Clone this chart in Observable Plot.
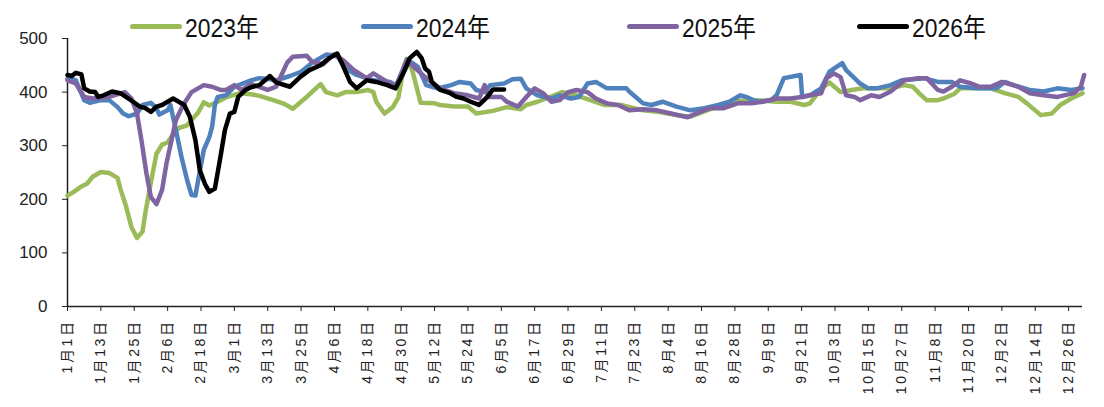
<!DOCTYPE html>
<html>
<head>
<meta charset="utf-8">
<script src="https://cdn.jsdelivr.net/npm/d3@7"></script>
<script src="https://cdn.jsdelivr.net/npm/@observablehq/plot@0.6"></script>
<style>
  body { margin: 0; background: #fff; }
  #wrap { position: relative; width: 1104px; height: 407px; }
  #chart { position: absolute; left: 0; top: 0; }
  .item { position: absolute; top: 9px; height: 34px; display: flex; align-items: center;
          font-family: "Liberation Sans", "Noto Sans CJK SC", sans-serif;
          font-size: 26px; color: #111; white-space: nowrap; }
  .sw { width: 52px; height: 5px; border-radius: 3px; margin-right: 3px; flex: none; }
  .tx { display: inline-block; transform: scaleX(0.88); transform-origin: left center; margin-top: -2px; }
</style>
</head>
<body>
<div id="wrap">
  <div id="chart"></div>
  <div id="legend"></div>
</div>
<script>
// ---- data (day index from 1月1日, value) ----
const seriesNames = ["2023年", "2024年", "2025年", "2026年"];
const seriesColors = ["#9BBB59", "#4F81BD", "#8064A2", "#000000"];

const days2023 = [0,2,5,7,9,12,15,18,19,21,23,25,27,28,30,32,34,36,38,40,43,45,47,49,51,54,57,62,66,69,74,78,81,86,91,93,97,100,104,108,110,111,114,117,119,121,122,124,127,132,134,139,144,147,153,158,163,165,169,175,178,183,188,193,199,207,213,219,224,229,235,241,248,255,260,265,267,271,274,278,282,286,296,301,304,307,309,313,315,319,321,332,337,342,345,350,354,357,361,365];
const vals2023 = [207,213,224,229,242,251,249,240,220,188,148,128,140,175,232,285,302,306,322,333,338,350,362,381,375,382,390,398,396,393,385,378,369,391,415,400,394,400,400,404,400,382,360,372,390,448,462,440,380,379,376,373,373,360,365,372,368,376,382,394,400,394,385,376,376,366,363,357,354,364,375,384,385,382,382,376,379,406,418,400,404,407,407,413,410,394,385,385,388,397,407,407,398,391,379,357,360,376,388,398];

const days2024 = [0,3,6,8,12,15,18,20,22,25,27,30,32,33,36,37,39,41,43,44.6,46,47,49,51,52,53,54,57,60,63,66,69,73,75,80,84,88,93,97,100,104,110,116,118,121,123,126,129,133,138,141,145,147,150,152,157,160,163,165,169,174,177,181,184,187,190,194,201,202,207,210,214,219,224,229,234,238,242,244,248,253,255,257.6,263.6,264.2,267,271,274,278.6,280,283,285,288,291,296,300,308,313,318,321,327,334,337,342,346,351,356,361,365];
const vals2024 = [425,422,385,380,385,385,372,360,355,360,376,380,370,358,366,376,329,279,236,208,207,236,292,316,335,376,391,394,410,416,422,426,424,422,430,438,455,470,468,444,432,422,419,413,438,458,447,413,407,413,419,416,404,400,413,416,424,425,407,394,388,394,388,391,416,419,407,407,401,379,376,382,373,366,370,376,382,394,391,382,385,394,426,432,391,394,407,438,454,441,426,416,407,407,413,422,426,419,419,410,407,407,419,410,404,401,407,404,407];

const days2025 = [0,3,6,9,15,20.6,23,25,26.6,28.4,30,32,34,35.6,37.4,39,41.6,44.6,49,52,55,57,60,62.6,66,72,75,79,81,86,88,92,95.6,99,103,107.6,110,115,118,122,124,129,134,139,144,148,150,151.4,156,158,162,165,168,171,174,177,180,183,187,190,194,198,202,207,212,217,223,226,231,236,241,246,250,255,260,264,267,271,273,275.6,278,280,283,285,289,292,296,301,306,309,313,315,318,321,325,328,332,336,342,346,351,356,362,364.4,365.6];
const vals2025 = [422,416,391,388,391,400,388,360,310,248,204,191,217,267,310,348,376,400,413,410,404,404,413,404,415,404,410,455,466,468,456,452,470,460,441,426,435,419,410,460,450,426,407,398,394,388,413,391,391,382,373,391,407,398,382,385,400,404,400,388,379,376,366,368,366,360,353,360,370,370,379,379,382,388,388,391,394,398,426,435,428,394,391,385,394,391,401,422,426,426,404,401,410,422,416,410,410,419,410,398,394,391,398,410,432];

const days2026 = [0,1.6,3,5,6,8,10,11,13,16,19,21,23.6,26,28,30,32,34,38,40,42,44,46,47.6,49.4,51,53,55,56.6,58.4,60,61.4,64,66,69,72.8,75,80,83.6,87,91,94,97,99,101.6,104,107.6,111,115,118,121,123,125.6,127.4,128.6,130,131,134,137.6,140,142.4,145,148,151,153,157];
const vals2026 = [432,430,436,433,407,401,400,391,394,401,398,391,382,373,370,363,373,376,388,382,376,354,310,254,229,214,220,279,329,360,363,391,404,409,413,430,418,410,428,441,450,463,472,450,419,407,422,419,413,407,438,463,475,463,444,438,419,404,398,391,388,382,376,391,405,405];

const tickDays = [0,12,24,36,48,60,72,84,96,108,120,132,144,156,168,180,192,204,216,228,240,252,264,276,288,300,312,324,336,348,360];
const tickLabels = ["1月1日","1月13日","1月25日","2月6日","2月18日","3月1日","3月13日","3月25日","4月6日","4月18日","4月30日","5月12日","5月24日","6月5日","6月17日","6月29日","7月11日","7月23日","8月4日","8月16日","8月28日","9月9日","9月21日","10月3日","10月15日","10月27日","11月8日","11月20日","12月2日","12月14日","12月26日"];
const yTicks = [0,100,200,300,400,500];

// ---- build table ----
const allDays = [days2023, days2024, days2025, days2026];
const allVals = [vals2023, vals2024, vals2025, vals2026];
const rows = [];
seriesNames.forEach((name, k) => {
  allDays[k].forEach((d, i) => rows.push({year: name, day: d, value: allVals[k][i]}));
});

const plot = Plot.plot({
  width: 1104,
  height: 407,
  marginLeft: 67,
  marginRight: 22,
  marginTop: 38,
  marginBottom: 101,
  x: {domain: [0, 365]},
  y: {domain: [0, 500]},
  color: {domain: seriesNames, range: seriesColors},
  style: {background: "#fff"},
  marks: [
    Plot.axisY({ticks: yTicks, tickSize: 5, tickPadding: 15, fontSize: 17,
                fontFamily: "Liberation Sans, sans-serif", fill: "#222", stroke: "#222", label: null}),
    Plot.axisX({ticks: tickDays, tickFormat: d => tickLabels[tickDays.indexOf(d)], tickRotate: -90,
                tickSize: 5, tickPadding: 8, fontSize: 14,
                fontFamily: "Liberation Sans, Noto Sans CJK SC, sans-serif", fill: "#222", stroke: "#222", label: null}),
    Plot.ruleX([0], {stroke: "#222", strokeWidth: 1.5}),
    Plot.ruleY([0], {stroke: "#222", strokeWidth: 1.5}),
    Plot.line(rows, {x: "day", y: "value", z: "year", stroke: "year", strokeWidth: 4.5,
                     strokeLinejoin: "round", strokeLinecap: "round"})
  ]
});
document.getElementById("chart").appendChild(plot);
d3.select(plot).selectAll('g[aria-label="x-axis tick label"] text').style("letter-spacing", "2.6px");

// ---- legend ----
const legendLeft = [130, 361, 627, 857];
const legend = document.getElementById("legend");
seriesNames.forEach((name, k) => {
  const it = document.createElement("div");
  it.className = "item";
  it.style.left = legendLeft[k] + "px";
  const sw = document.createElement("span");
  sw.className = "sw";
  sw.style.background = seriesColors[k];
  const tx = document.createElement("span");
  tx.className = "tx";
  tx.textContent = name;
  it.appendChild(sw); it.appendChild(tx);
  legend.appendChild(it);
});
</script>
</body>
</html>
